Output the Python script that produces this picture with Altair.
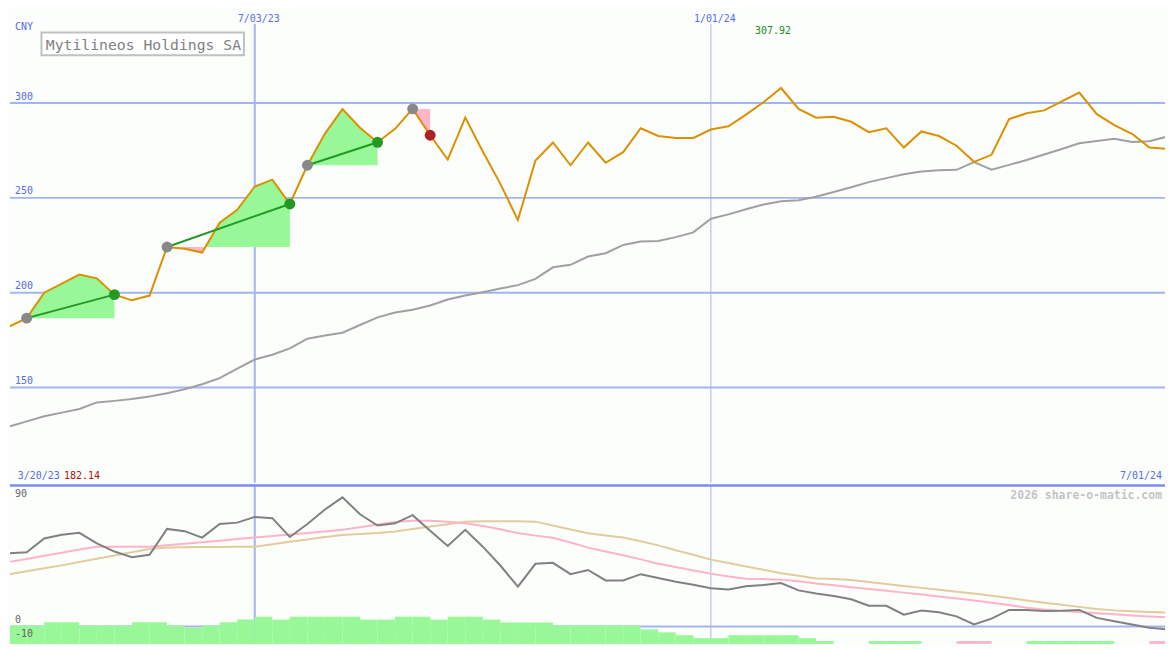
import altair as alt
import pandas as pd

# ---------------- data ----------------
dates = [d.strftime("%Y-%m-%d") for d in pd.date_range("2023-03-27", periods=67, freq="7D")]
next_dates = [d.strftime("%Y-%m-%d") for d in pd.date_range("2023-04-03", periods=67, freq="7D")]

price = [182.14, 186.6, 200.0, 204.8, 209.6, 207.6, 199.0, 196.0, 198.5, 224.1,
         223.2, 221.2, 236.9, 243.7, 256.0, 259.6, 246.8, 267.2, 283.9, 296.8,
         287.0, 279.3, 286.4, 296.9, 283.0, 270.2, 292.3, 274.4, 257.4, 238.3,
         269.7, 279.2, 267.2, 279.2, 268.5, 274.1, 286.7, 282.6, 281.6, 281.6,
         286.0, 287.7, 293.9, 300.4, 307.92, 296.9, 292.3, 292.8, 290.1, 284.6,
         286.7, 276.5, 285.0, 282.6, 277.5, 269.0, 272.7, 291.5, 294.6, 296.1,
         300.9, 305.5, 294.1, 288.4, 283.8, 276.5, 275.8]

moving_avg = [129.5, 132.2, 134.9, 136.8, 138.7, 142.2, 143.0, 144.0, 145.3, 147.0,
              149.1, 151.8, 155.0, 160.0, 164.8, 167.3, 170.7, 175.8, 177.5, 178.9,
              183.0, 187.0, 189.6, 191.0, 193.3, 196.4, 198.5, 200.3, 202.2, 204.0,
              207.3, 213.4, 214.7, 219.1, 220.8, 225.2, 227.0, 227.3, 229.3, 231.8,
              239.0, 241.3, 244.0, 246.5, 248.2, 248.8, 250.6, 253.1, 255.6, 258.3,
              260.4, 262.5, 263.9, 264.5, 264.8, 268.8, 264.9, 267.4, 270.0, 272.9,
              275.8, 278.8, 280.0, 281.2, 279.5, 279.8, 282.3]

osc = [52.4, 53.1, 62.9, 65.6, 67.0, 59.4, 53.6, 49.6, 51.3, 69.8,
       68.2, 63.6, 73.3, 74.3, 78.4, 77.5, 64.0, 73.3, 83.7, 92.4,
       80.3, 72.2, 73.8, 79.6, 68.5, 57.6, 69.1, 57.1, 43.6, 28.5,
       44.8, 45.5, 37.4, 40.4, 32.9, 32.9, 37.4, 34.6, 32.0, 29.9,
       27.4, 26.4, 28.7, 29.7, 31.1, 25.8, 23.5, 21.8, 19.5, 14.8,
       14.8, 8.4, 11.4, 10.2, 7.2, 1.4, 5.6, 11.8, 11.8, 11.1,
       11.3, 11.8, 6.1, 3.7, 1.4, -0.9, -2.1]

osc_fast = [46.2, 48.3, 50.6, 52.8, 55.0, 57.1, 57.1, 57.1, 57.1, 58.1,
            59.2, 60.3, 61.4, 62.5, 63.6, 64.7, 65.8, 66.9, 68.0, 69.2,
            71.0, 72.9, 74.8, 75.7, 75.7, 75.0, 73.9, 71.9, 69.5, 66.8,
            65.0, 63.4, 60.1, 56.4, 53.6, 50.9, 48.0, 44.9, 42.5, 40.1,
            37.8, 35.7, 34.2, 33.9, 33.5, 32.3, 30.7, 29.4, 28.1, 26.8,
            25.5, 24.2, 22.9, 21.4, 20.0, 18.5, 16.9, 15.4, 13.3, 12.1,
            11.2, 10.3, 9.5, 8.7, 7.9, 7.1, 6.5]

osc_slow = [37.4, 39.5, 41.6, 43.7, 46.1, 48.4, 50.8, 53.1, 55.4, 56.5,
            56.6, 56.8, 56.9, 57.0, 57.1, 58.8, 60.6, 62.3, 64.0, 65.4,
            66.2, 66.9, 67.9, 69.8, 71.5, 73.2, 75.0, 75.2, 75.2, 75.2,
            75.0, 72.3, 69.4, 66.7, 65.1, 63.6, 61.0, 58.0, 54.5, 51.3,
            47.8, 45.4, 42.9, 40.5, 38.1, 36.2, 34.3, 34.0, 33.2, 31.8,
            30.3, 28.9, 27.6, 26.2, 24.8, 23.5, 21.9, 20.3, 18.6, 17.0,
            15.5, 14.0, 12.5, 11.5, 10.9, 10.4, 9.9]

# histogram bar tops (None = no bar) and their sign
hist_top = [0.7, 0.7, 3.0, 3.0, 0.7, 0.7, 0.7, 3.0, 3.0, 0.7,
            -1.0, 0.7, 3.0, 4.9, 7.0, 4.9, 7.0, 7.0, 7.0, 7.0,
            4.9, 4.9, 7.0, 7.0, 4.9, 7.0, 7.0, 4.9, 2.8, 2.8,
            2.8, 0.7, 0.7, 0.7, 0.7, 0.7, -2.1, -4.2, -6.3, -8.4,
            -8.4, -6.3, -6.3, -6.3, -6.3, -8.4, -10.4, None, None, -10.4,
            -10.4, -10.4, None, None, -10.4, -10.4, None, None, -10.4, -10.4,
            -10.4, -10.4, -10.4, None, None, -10.4, -10.4]
hist_sign = ["up"] * 54 + ["down", "down", "", "", "up", "up", "up", "up", "up", "", "", "down", "down"]

trade_entry = [1, 9, 17, 23]
trade_exit = [6, 16, 21, 24]

grid_main = [300, 250, 200, 150]
grid_main_labels = ["300", "250", "200", "150"]
vline_dates = ["2023-07-03", "2024-01-01"]
vline_labels = ["7/03/23", "1/01/24"]
vline_widths = [2.0, 1.0]
lower_ticks = [90, 0, -10]
lower_tick_labels = ["90", "0", "-10"]

title_text = "Mytilineos Holdings SA"
currency = "CNY"
start_label = "3/20/23"
start_value = "182.14"
end_label = "7/01/24"
max_label = "307.92"
max_date = dates[price.index(max(price))]
credit = "2026 share-o-matic.com"

# ---------------- styling ----------------
W = 1159
H1 = 475
H2 = 159
SX = W / 1175.0
SY = (H1 + H2) / 650.0
FONT = "DejaVu Sans Mono"
BLUE_TXT = "#5a6ae8"
GRID = "#a4b3f2"
ORANGE = "#dc9000"
MA_GRAY = "#a0a0a0"
GREEN_FILL = "#98f898"
PINK_FILL = "#ffb6c8"

xscale = alt.Scale(type="utc", domain=[
    alt.DateTime(year=2023, month=3, date=27, hours=8, utc=True),
    alt.DateTime(year=2024, month=6, date=30, hours=5, utc=True)])
y_main = alt.Scale(domain=[100, 349.5])
y_low = alt.Scale(domain=[-12.5, 100.9])

X = lambda f="date": alt.X(f + ":T", scale=xscale, axis=None)

main_df = pd.DataFrame({"date": dates, "price": price, "ma": moving_avg})

# trade fill areas (with crossing points so colours split exactly)
fill_rows = []
for t, (a, b) in enumerate(zip(trade_entry, trade_exit)):
    e = price[a]
    for k in range(a, b + 1):
        p = price[k]
        fill_rows.append(dict(trade=t, date=dates[k] + "T00:00:00Z", hi=max(p, e), lo=min(p, e), e=e))
        if k < b:
            q = price[k + 1]
            if (p - e) * (q - e) < 0:
                f = (e - p) / (q - p)
                t0 = pd.Timestamp(dates[k])
                dt = t0 + (pd.Timestamp(dates[k + 1]) - t0) * f
                fill_rows.append(dict(trade=t, date=dt.strftime("%Y-%m-%dT%H:%M:%SZ"), hi=e, lo=e, e=e))
fill_df = pd.DataFrame(fill_rows)

seg_rows, mark_rows = [], []
for t, (a, b) in enumerate(zip(trade_entry, trade_exit)):
    win = price[b] >= price[a]
    col = "#229922" if win else "#aa2222"
    if win:
        seg_rows.append(dict(trade=t, date=dates[a], v=price[a], c=col))
        seg_rows.append(dict(trade=t, date=dates[b], v=price[b], c=col))
    mark_rows.append(dict(date=dates[a], v=price[a], c="#888888"))
    mark_rows.append(dict(date=dates[b], v=price[b], c=col))
seg_df = pd.DataFrame(seg_rows)
mark_df = pd.DataFrame(mark_rows)

grid_df = pd.DataFrame({"v": grid_main, "lab": grid_main_labels})
vl_df = pd.DataFrame({"date": vline_dates, "lab": vline_labels, "w": vline_widths})

one = pd.DataFrame({"a": [0]})


def label(text, x, y, color, size=10, align="left", weight="normal"):
    return alt.Chart(one).mark_text(
        font=FONT, fontSize=size, align=align, baseline="alphabetic",
        fontWeight=weight, color=color
    ).encode(x=alt.value(x * SX), y=alt.value(y), text=alt.value(text))


# ---------------- main panel ----------------
grid = alt.Chart(grid_df).mark_rule(color=GRID, strokeWidth=2).encode(
    y=alt.Y("v:Q", scale=y_main, axis=None))
grid_lab = alt.Chart(grid_df).mark_text(
    font=FONT, fontSize=10, align="left", baseline="bottom", dy=-1.5, color=BLUE_TXT
).encode(x=alt.value(5 * SX), y=alt.Y("v:Q", scale=y_main), text="lab:N")

vlines = alt.Chart(vl_df).mark_rule(color=GRID).encode(
    x=X(), y=alt.value(15 * SY), y2=alt.value(H1),
    strokeWidth=alt.StrokeWidth("w:Q", scale=None))
vlab = alt.Chart(vl_df).mark_text(
    font=FONT, fontSize=10, align="center", baseline="alphabetic", dx=4, color=BLUE_TXT
).encode(x=X(), y=alt.value(12.5), text="lab:N")

green_fill = alt.Chart(fill_df).mark_area(color=GREEN_FILL, clip=True).encode(
    x=X(), y=alt.Y("hi:Q", scale=y_main), y2="e:Q", detail="trade:N")
pink_fill = alt.Chart(fill_df).mark_area(color=PINK_FILL, clip=True).encode(
    x=X(), y=alt.Y("lo:Q", scale=y_main), y2="e:Q", detail="trade:N")

ma_line = alt.Chart(main_df).mark_line(color=MA_GRAY, strokeWidth=2, clip=True).encode(
    x=X(), y=alt.Y("ma:Q", scale=y_main))
price_line = alt.Chart(main_df).mark_line(color=ORANGE, strokeWidth=2, clip=True).encode(
    x=X(), y=alt.Y("price:Q", scale=y_main))

segs = alt.Chart(seg_df).mark_line(strokeWidth=2).encode(
    x=X(), y=alt.Y("v:Q", scale=y_main), detail="trade:N",
    color=alt.Color("c:N", scale=None))
marks = alt.Chart(mark_df).mark_circle(size=120, opacity=1).encode(
    x=X(), y=alt.Y("v:Q", scale=y_main), color=alt.Color("c:N", scale=None))

max_lab = alt.Chart(pd.DataFrame({"date": [max_date], "lab": [max_label]})).mark_text(
    font=FONT, fontSize=10, align="center", baseline="alphabetic", dx=-8, color="#228822"
).encode(x=X(), y=alt.value(24.5), text="lab:N")

title_box = alt.Chart(one).mark_rect(fill="white", stroke="#c0c0c0", strokeWidth=2).encode(
    x=alt.value(32 * SX), x2=alt.value(238 * SX), y=alt.value(24 * SY), y2=alt.value(47.5 * SY))
title = label(title_text, 36.5, 41.5, "#808080", size=14.8)

main = alt.layer(
    grid, vlines, green_fill, pink_fill, ma_line, price_line, segs, marks,
    grid_lab, vlab, max_lab, title_box, title,
    label(currency, 5, 20.5, BLUE_TXT),
    label(start_label, 8, 472, BLUE_TXT),
    label(start_value, 55, 472, "#aa1111"),
    label(end_label, 1172, 472, BLUE_TXT, align="right"),
).properties(width=W, height=H1)

# ---------------- lower panel ----------------
low_df = pd.DataFrame({"date": dates, "osc": osc, "fast": osc_fast, "slow": osc_slow})
hist_df = pd.DataFrame({"date": dates, "date2": next_dates, "top": hist_top, "sign": hist_sign})
hist_df = hist_df[hist_df["top"].notna()]
tick_df = pd.DataFrame({"v": lower_ticks, "lab": lower_tick_labels})

sep = alt.Chart(one).mark_rule(color="#7b8cf0", strokeWidth=2.5).encode(
    x=alt.value(0), x2=alt.value(W), y=alt.value(0))
vlines_low = alt.Chart(vl_df).mark_rule(color=GRID).encode(
    x=X(), y=alt.value(0), y2=alt.value(H2),
    strokeWidth=alt.StrokeWidth("w:Q", scale=None))
zero = alt.Chart(pd.DataFrame({"v": [0]})).mark_rule(color=GRID, strokeWidth=2).encode(
    y=alt.Y("v:Q", scale=y_low, axis=None))
hist = alt.Chart(hist_df).mark_rect(clip=True).encode(
    x=X(), x2="date2:T",
    y=alt.Y("top:Q", scale=y_low), y2=alt.value(H2),
    color=alt.Color("sign:N", scale=alt.Scale(domain=["up", "down"], range=[GREEN_FILL, PINK_FILL]),
                    legend=None))
slow_line = alt.Chart(low_df).mark_line(color="#e2cc9c", strokeWidth=2, clip=True).encode(
    x=X(), y=alt.Y("slow:Q", scale=y_low))
fast_line = alt.Chart(low_df).mark_line(color="#ffb3c8", strokeWidth=2, clip=True).encode(
    x=X(), y=alt.Y("fast:Q", scale=y_low))
osc_line = alt.Chart(low_df).mark_line(color="#808080", strokeWidth=2, clip=True).encode(
    x=X(), y=alt.Y("osc:Q", scale=y_low))
tick_lab = alt.Chart(tick_df).mark_text(
    font=FONT, fontSize=10, align="left", baseline="bottom", dy=-1.5, color="#666666"
).encode(x=alt.value(5 * SX), y=alt.Y("v:Q", scale=y_low), text="lab:N")

lower = alt.layer(
    vlines_low, zero, hist, slow_line, fast_line, osc_line, tick_lab, sep,
    label(credit, 1172, 13.5, "#c4c4c4", size=11.5, align="right", weight="bold"),
).properties(width=W, height=H2)

chart = alt.vconcat(main, lower, spacing=0).properties(
    padding=0, background="#fcfefc"
).configure_view(stroke=None).configure_concat(spacing=0)

chart.save("out.html", embed_options={"renderer": "svg", "actions": False})
